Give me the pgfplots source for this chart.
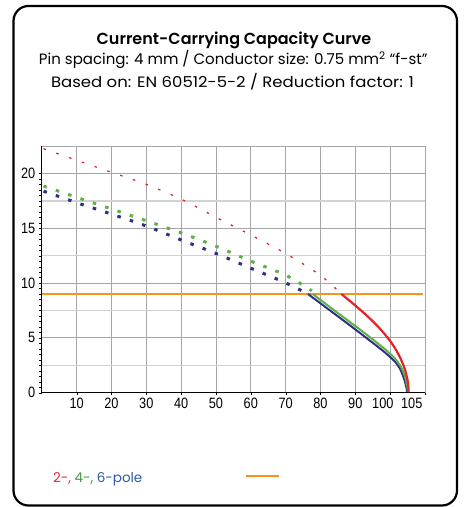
\documentclass[border=0pt]{standalone}
\usepackage{fontspec}
\usepackage{pgfplots}
\pgfplotsset{compat=1.18}
\setmainfont{Poppins}
\newfontfamily\titlefont{Poppins SemiBold}
\newfontfamily\tickfont[FakeStretch=0.85]{Liberation Sans}
\definecolor{cred}{HTML}{E4222A}
\definecolor{cgreen}{HTML}{5DB246}
\definecolor{cblue}{HTML}{2E2F86}
\definecolor{corange}{HTML}{F7941D}
\definecolor{tgreen}{HTML}{3C9A45}
\definecolor{tblue}{HTML}{2B5AA6}
\definecolor{gmaj}{HTML}{A6A6A6}
\definecolor{gmin}{HTML}{D2D2D2}
\begin{document}
\begin{tikzpicture}[x=1bp,y=1bp]
\path (0,0) rectangle (464,507);
\draw[line width=2.2bp, rounded corners=15bp] (13.5,1.5) rectangle (457,501);
\node[anchor=base, inner sep=0pt, font=\titlefont\fontsize{16bp}{19bp}\selectfont] at (234,462) {Current-Carrying Capacity Curve};
\node[anchor=base, inner sep=0pt, font=\fontsize{15bp}{18bp}\selectfont] at (233.3,442) {Pin spacing: 4 mm / Conductor size: 0.75 mm\textsuperscript{2} “f-st”};
\node[anchor=base, inner sep=0pt, font=\fontsize{15bp}{18bp}\selectfont] at (232.5,419.7) {\scalebox{1.1}[1]{Based on: EN 60512-5-2 / Reduction factor: 1}};
\node[anchor=base west, inner sep=0pt, font=\fontsize{13.5bp}{16bp}\selectfont] at (53,24) {{\color{cred}2-,} {\color{tgreen}4-,} {\color{tblue}6-pole}};
\draw[corange, line width=2.5bp] (246,31) -- (279,31);
\begin{axis}[
  at={(41.8bp,114.3bp)}, anchor=south west, scale only axis,
  width=383.2bp, height=246.7bp,
  xmin=0, xmax=110, ymin=0, ymax=22.5,
  axis line style={gmaj, line width=0.8bp},
  tick align=outside, tick pos=left,
  xtick={10,20,30,40,50,60,70,80,90,97.9,106.2},
  xticklabels={10,20,30,40,50,60,70,80,90,100,105},
  major x tick style={draw=none},
  minor xtick={10,20,30,40,50,60,70,80,90,100,110},
  xminorgrids=true,
  minor x tick style={black},
  minor tick length=2.5bp,
  ytick={0,5,10,15,20},
  ymajorgrids=true,
  major grid style={gmaj, line width=0.8bp},
  minor grid style={gmaj, line width=0.8bp},
  major y tick style={black},
  major tick length=3bp,
  minor y tick num=9,
  minor y tick style={black},
  extra y ticks={2.5,7.5,12.5,17.5},
  extra y tick labels={},
  extra y tick style={grid=major, major grid style={gmin, line width=1.5bp}, major tick length=0pt},
  ticklabel style={font=\tickfont\fontsize{15bp}{17bp}\selectfont},
  /pgf/number format/assume math mode=true,
  xticklabel style={yshift=1bp},
  clip=false,
]
\addplot[corange, line width=2.4bp] coordinates {(0,9) (109.3,9)};
% dotted parts
\addplot[cblue, line width=3bp, dash pattern=on 3.5bp off 9.5bp, smooth] coordinates {
(0.5,18.38)(10,17.33)(20,16.29)(30,15.2)(40,13.93)(50,12.7)(60,11.35)(70,10.02)(76.4,9.0)};
\addplot[cgreen, line width=3bp, dash pattern=on 3.5bp off 9.5bp, smooth] coordinates {
(0.5,18.85)(10,17.82)(20,16.76)(30,15.68)(40,14.58)(50,13.36)(60,12.0)(70,10.72)(77.5,9.3)};
\addplot[cred, line width=1.3bp, dash pattern=on 2.5bp off 11bp, smooth] coordinates {
(0.5,22.25)(10,21.2)(20,20.1)(30,19.0)(40,17.65)(50,16.0)(60,14.38)(70,12.7)(80,10.7)(86,9.0)};
% solid parts
\addplot[cblue, line width=2bp, smooth, tension=0.4] coordinates {
(76.4,9.0)(80,8.15)(84,7.2)(88,6.25)(92,5.28)(95,4.55)(98,3.8)(100,3.25)(101.5,2.78)(102.7,2.25)(103.6,1.62)(104.3,0.95)(104.7,0.42)(104.9,0)};
\addplot[cgreen, line width=2bp, smooth, tension=0.4] coordinates {
(77.8,9.0)(81,8.22)(84,7.5)(88,6.55)(92,5.6)(95,4.86)(98,4.1)(100,3.55)(101.7,3.0)(103,2.42)(104,1.72)(104.6,1.05)(105,0.45)(105.1,0)};
\addplot[cred, line width=2.2bp, smooth, tension=0.4] coordinates {
(86,9.0)(88,8.48)(90,7.95)(92,7.4)(94,6.82)(96,6.2)(98,5.5)(100,4.72)(101.5,4.0)(102.8,3.24)(103.8,2.5)(104.5,1.83)(105,1.12)(105.2,0.65)(105.3,0)};
\draw[black, line width=1bp] (rel axis cs:0,1) -- (rel axis cs:0,0) -- (rel axis cs:1,0);
\end{axis}
\end{tikzpicture}
\end{document}
